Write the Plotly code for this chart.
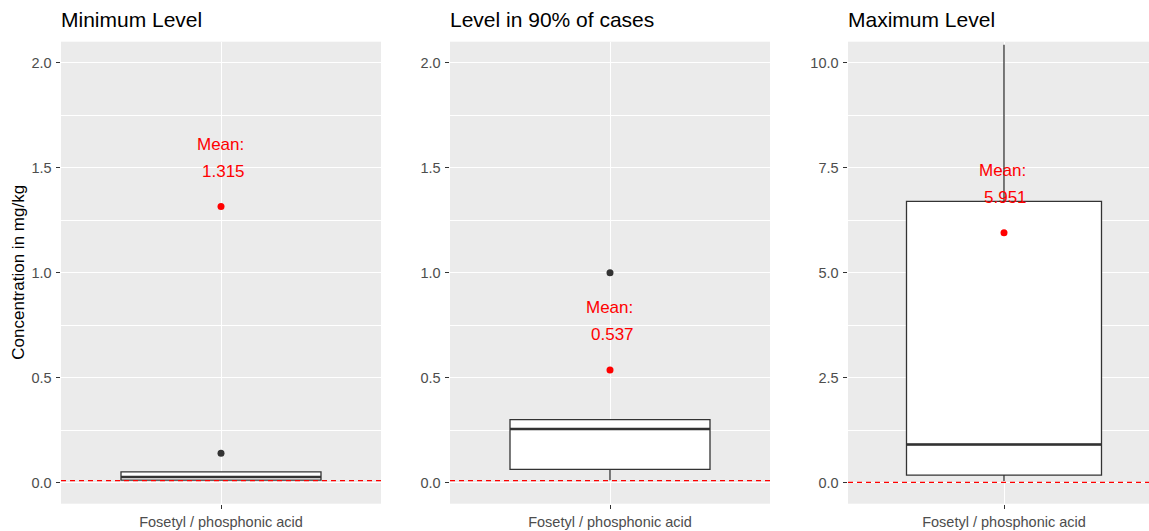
import plotly.graph_objects as go

# Residue summaries for one substance, one panel per statistic
category = "Fosetyl / phosphonic acid"
panel_titles = ["Minimum Level", "Level in 90% of cases", "Maximum Level"]

q1_vals = [0.012, 0.063, 0.18]
median_vals = [0.027, 0.256, 0.91]
q3_vals = [0.052, 0.300, 6.70]
lower_whisker = [0.012, 0.012, 0.04]
upper_whisker = [0.052, 0.300, 10.43]
outliers = [[0.14], [1.0], []]
mean_vals = [1.315, 0.537, 5.951]
limit_line = 0.01

y_ranges = [[-0.1, 2.1], [-0.1, 2.1], [-0.5, 10.5]]
y_major = [0.5, 0.5, 2.5]
x_ranges = [[-0.6, 0.6], [-0.6, 0.6], [-0.6, 0.5577]]

W, H = 1149, 531
panel_px = [(61, 381), (450, 770), (848, 1149)]
top_px, bottom_px = 41.7, 503.7
y_dom = [1 - bottom_px / H, 1 - top_px / H]

FONT = "Liberation Sans, Arial, sans-serif"
INK = "#333333"
BOX_W = 0.75

fig = go.Figure()
annotations = []
shapes = []
layout_axes = {}

for i in range(3):
    sfx = "" if i == 0 else str(i + 1)
    xa, ya = "x" + sfx, "y" + sfx

    fig.add_trace(go.Box(
        x=[0], q1=[q1_vals[i]], median=[median_vals[i]], q3=[q3_vals[i]],
        lowerfence=[lower_whisker[i]], upperfence=[upper_whisker[i]],
        width=BOX_W, whiskerwidth=0, fillcolor="white",
        line=dict(color=INK, width=1.3), boxpoints=False,
        xaxis=xa, yaxis=ya, showlegend=False, hoverinfo="skip",
    ))
    # thicker median bar
    fig.add_trace(go.Scatter(
        x=[-BOX_W / 2, BOX_W / 2], y=[median_vals[i], median_vals[i]],
        mode="lines", line=dict(color=INK, width=2.6),
        xaxis=xa, yaxis=ya, showlegend=False, hoverinfo="skip",
    ))
    if outliers[i]:
        fig.add_trace(go.Scatter(
            x=[0] * len(outliers[i]), y=outliers[i], mode="markers",
            marker=dict(color=INK, size=7),
            xaxis=xa, yaxis=ya, showlegend=False, hoverinfo="skip",
        ))
    fig.add_trace(go.Scatter(
        x=[0], y=[mean_vals[i]], mode="markers",
        marker=dict(color="red", size=7),
        xaxis=xa, yaxis=ya, showlegend=False, hoverinfo="skip",
    ))

    shapes.append(dict(
        type="line", xref=xa + " domain", yref=ya,
        x0=0, x1=1, y0=limit_line, y1=limit_line,
        line=dict(color="red", width=1.2, dash="5px,4px"), layer="above",
    ))

    annotations.append(dict(
        x=0, y=mean_vals[i], xref=xa, yref=ya, text="Mean:",
        showarrow=False, yshift=62, xshift=-1,
        font=dict(family=FONT, size=17, color="red"),
    ))
    annotations.append(dict(
        x=0, y=mean_vals[i], xref=xa, yref=ya, text=f"{mean_vals[i]:.3f}",
        showarrow=False, yshift=35, xshift=2,
        font=dict(family=FONT, size=17, color="red"),
    ))

    x0, x1 = panel_px[i]
    annotations.append(dict(
        x=(x0 - 2) / W, y=1 - 20 / H, xref="paper", yref="paper",
        text=panel_titles[i], showarrow=False, xanchor="left", yanchor="middle",
        font=dict(family=FONT, size=21, color="black"),
    ))

    axis_common = dict(
        ticks="outside", ticklen=4.5, tickwidth=1.1, tickcolor=INK,
        showline=False, zeroline=False,
        tickfont=dict(family=FONT, size=14.5, color="#4D4D4D"),
    )
    layout_axes["xaxis" + sfx] = dict(
        domain=[x0 / W, x1 / W], anchor=ya, range=x_ranges[i],
        tickvals=[0], ticktext=[category],
        showgrid=True, gridcolor="white", gridwidth=1.2,
        fixedrange=True, **axis_common,
    )
    layout_axes["yaxis" + sfx] = dict(
        domain=y_dom, anchor=xa, range=y_ranges[i],
        tick0=0, dtick=y_major[i], tickformat=".1f",
        showgrid=True, gridcolor="white", gridwidth=1.2,
        minor=dict(dtick=y_major[i] / 2, tick0=0, showgrid=True,
                   gridcolor="white", gridwidth=0.6, ticks=""),
        ticklabelstandoff=1,
        fixedrange=True, **axis_common,
    )

annotations.append(dict(
    x=19 / W, y=1 - 272.7 / H, xref="paper", yref="paper",
    text="Concentration in mg/kg", showarrow=False, textangle=-90,
    xanchor="center", yanchor="middle",
    font=dict(family=FONT, size=17, color="black"),
))

fig.update_layout(
    width=W, height=H,
    margin=dict(l=0, r=0, t=0, b=0),
    paper_bgcolor="white", plot_bgcolor="#EBEBEB",
    font=dict(family=FONT),
    annotations=annotations, shapes=shapes,
    **layout_axes,
)

fig.write_html("out.html")
